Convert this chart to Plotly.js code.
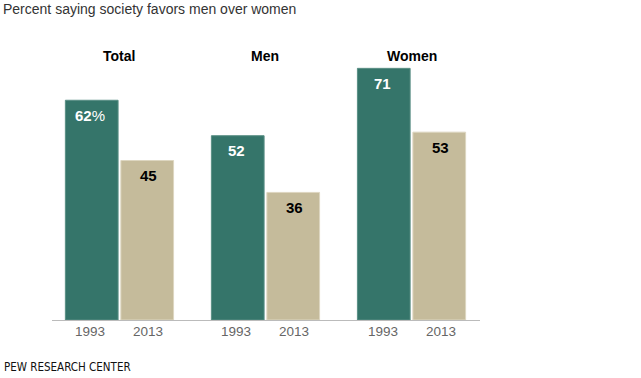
<!DOCTYPE html>
<html><head><meta charset="utf-8">
<script src="https://cdn.plot.ly/plotly-3.0.1.min.js"></script>
<style>html,body{margin:0;padding:0;background:#fff}#chart{width:641px;height:378px}</style>
</head><body><div id="chart"></div>
<script>
const groups = ["Total", "Men", "Women"];
const years = ["1993", "2013"];
const values1993 = [62, 52, 71];
const values2013 = [45, 36, 53];
const labels1993 = ["62%", "52", "71"];
const labels2013 = ["45", "36", "53"];
const colors = ["#35756a", "#c5bb9b"];

const FONT = "Liberation Sans, Arial, sans-serif";
const traces = [values1993, values2013].map((vals, i) => ({
  type: "bar", x: groups, y: vals, name: years[i],
  marker: {color: colors[i], line: {color: i === 0 ? "#5a8f85" : "#ddd6c0", width: 1}},
  hoverinfo: "skip"
}));

const ann = [];
const shift = 29;
groups.forEach((g, gi) => {
  [values1993, values2013].forEach((vals, i) => {
    const lab = i === 0 ? labels1993[gi] : labels2013[gi];
    ann.push({x: g, y: vals[gi], xref: "x", yref: "y", xshift: i === 0 ? -shift : shift, yshift: -15,
      text: lab.replace("%", "<span style='font-weight:normal'>%</span>"), showarrow: false,
      font: {family: FONT, size: 15, color: i === 0 ? "#ffffff" : "#000000", weight: "bold"}});
    ann.push({x: g, y: 0, xref: "x", yref: "y", xshift: i === 0 ? -shift : shift, yshift: -11,
      text: years[i], showarrow: false, font: {family: FONT, size: 13.5, color: "#666666"}});
  });
  ann.push({x: g, y: 74.6, xref: "x", yref: "y", text: g, showarrow: false,
    font: {family: FONT, size: 14, color: "#000", weight: "bold"}});
});
ann.push({x: 0, y: 1, xref: "paper", yref: "paper", xanchor: "left", yanchor: "top", xshift: -51, yshift: 41,
  text: "Percent saying society favors men over women", showarrow: false,
  font: {family: FONT, size: 14, color: "#333"}});
ann.push({x: 0, y: 0, xref: "paper", yref: "paper", xanchor: "left", yanchor: "bottom", xshift: -50, yshift: -56,
  text: "PEW RESEARCH CENTER", showarrow: false, font: {family: "DejaVu Sans Condensed, sans-serif", size: 11.5, color: "#111"}});

const layout = {
  width: 641, height: 378,
  margin: {l: 52, r: 161, t: 40, b: 58},
  paper_bgcolor: "#fff", plot_bgcolor: "#fff",
  barmode: "group", bargap: 0.24, bargroupgap: 0.05,
  showlegend: false,
  xaxis: {range: [-0.462, 2.469], showticklabels: false, ticks: "", showline: true, linecolor: "#bbbbbb", linewidth: 1, showgrid: false, zeroline: false, fixedrange: true},
  yaxis: {range: [0, 79], visible: false, showgrid: false, zeroline: false},
  annotations: ann
};
Plotly.newPlot("chart", traces, layout, {displayModeBar: false, staticPlot: true});
</script></body></html>
